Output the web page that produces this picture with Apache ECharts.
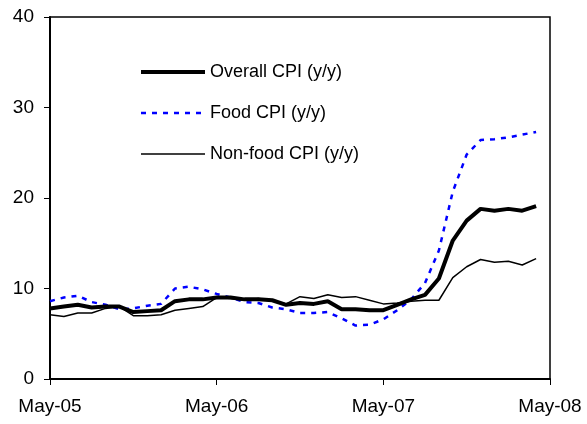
<!DOCTYPE html>
<html>
<head>
<meta charset="utf-8">
<script src="https://cdn.jsdelivr.net/npm/echarts@6/dist/echarts.min.js"></script>
<style>
  html, body { margin: 0; padding: 0; background: #fff; }
  #chart { width: 587px; height: 424px; }
</style>
</head>
<body>
<div id="chart"></div>
<script>
const months = [
    'May-05', 'Jun-05', 'Jul-05', 'Aug-05', 'Sep-05', 'Oct-05', 'Nov-05', 'Dec-05', 'Jan-06', 'Feb-06', 'Mar-06', 'Apr-06',
    'May-06', 'Jun-06', 'Jul-06', 'Aug-06', 'Sep-06', 'Oct-06', 'Nov-06', 'Dec-06', 'Jan-07', 'Feb-07', 'Mar-07', 'Apr-07',
    'May-07', 'Jun-07', 'Jul-07', 'Aug-07', 'Sep-07', 'Oct-07', 'Nov-07', 'Dec-07', 'Jan-08', 'Feb-08', 'Mar-08', 'Apr-08',
    'May-08'
];

const overallCpi = [7.8, 8.0, 8.2, 7.9, 8.0, 8.0, 7.4, 7.5, 7.6, 8.6, 8.8, 8.8,
    9.0, 9.0, 8.8, 8.8, 8.7, 8.2, 8.4, 8.3, 8.6, 7.7, 7.7, 7.6,
    7.6, 8.2, 8.8, 9.3, 11.1, 15.3, 17.5, 18.8, 18.6, 18.8, 18.6, 19.1];

const foodCpi = [8.6, 9.0, 9.2, 8.5, 8.2, 7.7, 7.8, 8.1, 8.3, 10.0, 10.2, 9.9,
    9.4, 9.0, 8.5, 8.4, 7.9, 7.7, 7.3, 7.3, 7.4, 6.7, 5.9, 6.0,
    6.6, 7.6, 8.8, 10.6, 14.2, 20.7, 24.8, 26.4, 26.5, 26.7, 27.0, 27.3];

const nonFoodCpi = [7.1, 6.9, 7.3, 7.3, 7.8, 8.0, 7.0, 7.0, 7.1, 7.6, 7.8, 8.0,
    9.0, 8.9, 8.7, 8.9, 8.7, 8.3, 9.1, 8.9, 9.3, 9.0, 9.1, 8.7,
    8.3, 8.4, 8.6, 8.7, 8.7, 11.2, 12.4, 13.2, 12.9, 13.0, 12.6, 13.3];

const myChart = echarts.init(document.getElementById('chart'));

const labelFont = 'Liberation Sans, Arial, sans-serif';

const option = {
    animation: false,
    textStyle: { fontFamily: labelFont },
    grid: {
        left: 50,
        top: 17,
        right: 37,
        bottom: 45,
        show: true,
        borderColor: '#000',
        borderWidth: 1.5
    },
    legend: {
        orient: 'vertical',
        left: 139,
        top: 62,
        padding: 0,
        itemGap: 21,
        itemWidth: 64,
        itemHeight: 20,
        // hide the round marker ECharts puts in the middle of line icons
        itemStyle: { color: 'transparent', borderColor: 'transparent', borderWidth: 0 },
        textStyle: { fontSize: 18, color: '#000', fontFamily: labelFont, lineHeight: 20 },
        data: [
            { name: 'Overall CPI (y/y)', lineStyle: { width: 4 } },
            { name: 'Food CPI (y/y)', lineStyle: { width: 2.5 } },
            { name: 'Non-food CPI (y/y)', lineStyle: { width: 1.5 } }
        ]
    },
    xAxis: {
        type: 'category',
        data: months,
        boundaryGap: false,
        axisLine: { lineStyle: { color: '#000', width: 2 } },
        axisTick: { interval: 11, length: 6, lineStyle: { color: '#000', width: 1 } },
        axisLabel: { interval: 11, margin: 18, fontSize: 19, color: '#000' },
        splitLine: { show: false }
    },
    yAxis: {
        type: 'value',
        min: 0,
        max: 40,
        interval: 10,
        axisLine: { show: true, lineStyle: { color: '#000', width: 2 } },
        axisTick: { show: true, length: 6, lineStyle: { color: '#000', width: 1 } },
        axisLabel: { margin: 16, fontSize: 19, color: '#000' },
        splitLine: { show: false }
    },
    series: [
        {
            name: 'Overall CPI (y/y)',
            type: 'line',
            data: overallCpi,
            symbol: 'none',
            lineStyle: { color: '#000', width: 4 },
            itemStyle: { color: '#000' },
            z: 3
        },
        {
            name: 'Food CPI (y/y)',
            type: 'line',
            data: foodCpi,
            symbol: 'none',
            lineStyle: { color: '#0000ff', width: 2.5, type: [5, 6] },
            itemStyle: { color: '#0000ff' },
            z: 2
        },
        {
            name: 'Non-food CPI (y/y)',
            type: 'line',
            data: nonFoodCpi,
            symbol: 'none',
            lineStyle: { color: '#000', width: 1.5 },
            itemStyle: { color: '#000' },
            z: 2
        }
    ]
};

myChart.setOption(option);
</script>
</body>
</html>
